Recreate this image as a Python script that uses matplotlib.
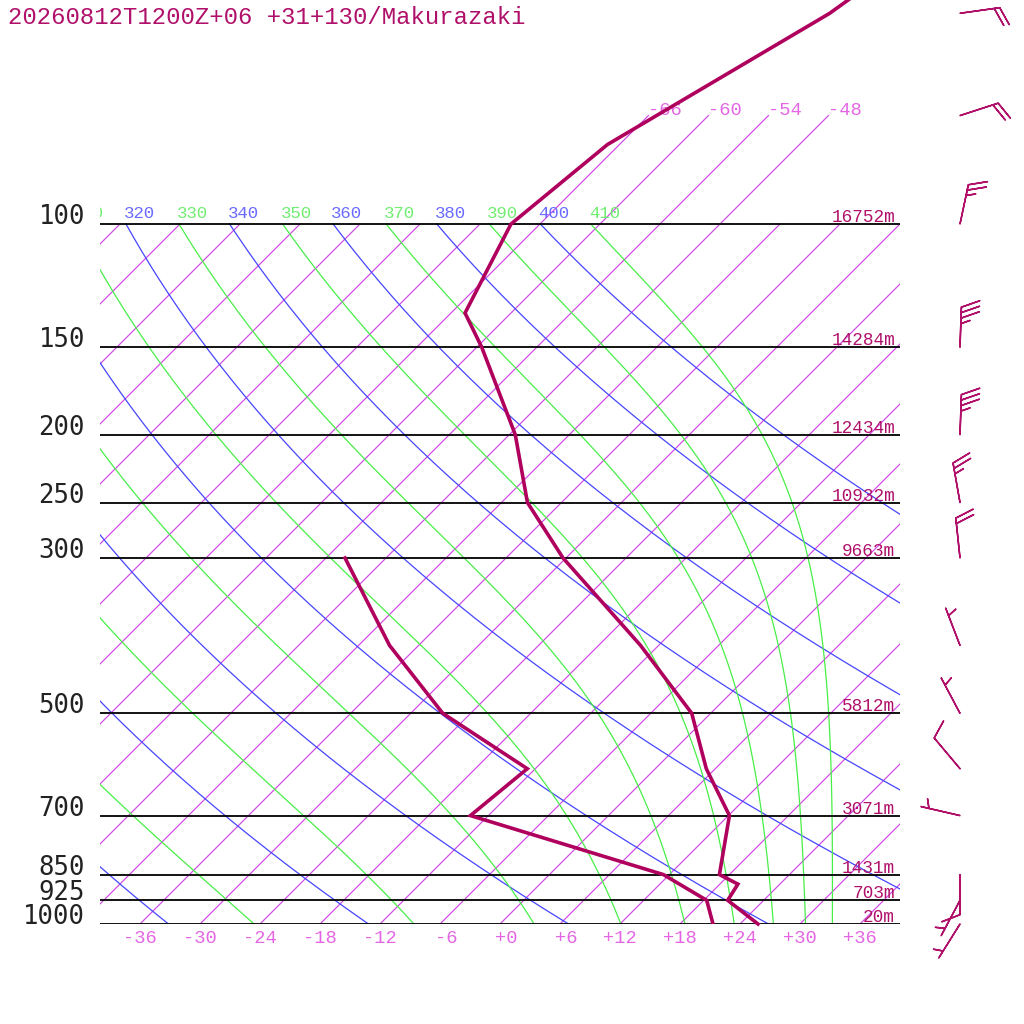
import numpy as np
import matplotlib
matplotlib.use("Agg")
import matplotlib.pyplot as plt

title = "20260812T1200Z+06 +31+130/Makurazaki"

# standard levels with geopotential height labels
levels = [100, 150, 200, 250, 300, 500, 700, 850, 925, 1000]
heights = ["16752m", "14284m", "12434m", "10932m", "9663m",
           "5812m", "3071m", "1431m", "703m", "20m"]

# temperature profile (hPa, degC)
t_pres = [30, 50, 77, 100, 134, 150, 200, 250, 300, 400, 500, 600, 700, 850, 877, 925, 1000]
t_temp = [-52.1, -58.1, -67.2, -68.9, -64.6, -59.5, -47.4, -39.4, -30.3, -13.8,
          -1.9, 5.1, 12.1, 17.0, 19.8, 20.4, 25.8]

# dewpoint profile
d_pres = [300, 400, 500, 600, 700, 850, 925, 1000]
d_temp = [-52.1, -38.9, -26.8, -12.8, -13.8, 11.4, 18.3, 21.3]

# winds (direction from, knots)
w_pres = [50, 70, 100, 150, 200, 250, 300, 400, 500, 600, 700, 850, 925, 1000]
w_dir = [82, 72, 12, 2, 2, 350, 354, 339, 332, 320, 283, 180, 208, 212]
w_spd = [20, 20, 25, 35, 35, 25, 20, 5, 5, 10, 5, 10, 5, 5]

isotherms = list(range(-120, 43, 6))
iso_top = [-66, -60, -54, -48]
iso_bottom_labels = list(range(-36, 37, 6))
dry_thetas = list(range(240, 401, 20))
moist_thetas = list(range(250, 411, 20))

P_TOP = 1000 * 10 ** (-924 / 700)
SKEW = 70.0

PROFILE = "#b0005e"
ISO = "#d046e4"
ISO_LAB = "#e466e4"
DRY = "#4646ff"
DRY_LAB = "#6a6aff"
MOIST = "#48ee48"
MOIST_LAB = "#70ee70"
TXT = "#b0106a"
MONO = "Liberation Mono"


def skew_x(t, p):
    return np.asarray(t) + SKEW * np.log10(1000.0 / np.asarray(p))


def theta_e_sat(tk, p):
    tc = tk - 273.15
    es = 6.112 * np.exp(17.67 * tc / (tc + 243.5))
    r = 622.0 * es / (p - es)
    th = tk * (1000.0 / p) ** (0.2854 * (1 - 0.28e-3 * r))
    return th * np.exp((3.376 / tk - 0.00254) * r * (1 + 0.81e-3 * r))


def moist_adiabat(the, p):
    lo = np.full_like(p, 150.0)
    hi = the * (p / 1000.0) ** 0.2854 + 0.5
    for _ in range(60):
        mid = 0.5 * (lo + hi)
        f = theta_e_sat(mid, p) > the
        hi = np.where(f, mid, hi)
        lo = np.where(f, lo, mid)
    return 0.5 * (lo + hi) - 273.15


def top_label(th, t100, color):
    x0 = skew_x(t100, 100)
    if x0 < -44:  # label lies wholly left of the frame
        return
    ax.annotate(str(th), xy=(x0, 100), xytext=(-2, 6),
                textcoords="offset pixels", ha="left", va="baseline",
                color=color, fontsize=12.5, family=MONO,
                clip_on=True, annotation_clip=False)


fig = plt.figure(figsize=(10.24, 10.24), dpi=100)
ax = fig.add_axes([100 / 1024, 100 / 1024, 800 / 1024, 924 / 1024])
ax.set_yscale("log")
ax.set_xlim(-40, 40)
ax.set_ylim(1000, P_TOP)
ax.axis("off")

pp = np.logspace(2, 3, 200)

# isotherms
for t in isotherms:
    ptop = 70 if t in iso_top else 100
    pl = np.array([ptop, 1000.0])
    ax.plot(skew_x(t, pl), pl, color=ISO, lw=0.85, zorder=1)
for t in iso_top:
    ax.annotate(f"{t:+d}", xy=(skew_x(t, 70), 70), xytext=(0, 1),
                textcoords="offset pixels", ha="left", va="baseline",
                color=ISO_LAB, fontsize=13.5, family=MONO)
for t in iso_bottom_labels:
    ax.annotate(f"{t:+d}", xy=(t, 1000), xytext=(17, -19),
                textcoords="offset pixels", ha="right", va="baseline",
                color=ISO_LAB, fontsize=13.5, family=MONO, annotation_clip=False)

# dry adiabats
for th in dry_thetas:
    tt = th * (pp / 1000.0) ** 0.2857 - 273.15
    ax.plot(skew_x(tt, pp), pp, color=DRY, lw=0.9, zorder=2)
    top_label(th, tt[0], DRY_LAB)

# moist adiabats
for th in moist_thetas:
    tt = moist_adiabat(float(th), pp)
    ax.plot(skew_x(tt, pp), pp, color=MOIST, lw=0.9, zorder=2)
    top_label(th, tt[0], MOIST_LAB)

# pressure levels
ax.hlines(levels, -40, 40, color="black", lw=1.3, zorder=3)
for p, h in zip(levels, heights):
    ax.annotate(str(p), xy=(0, p), xycoords=ax.get_yaxis_transform(),
                xytext=(-15, 0), textcoords="offset pixels", ha="right",
                va="baseline", color="#222222", fontsize=18.5,
                family="DejaVu Sans Mono", annotation_clip=False)
    ax.annotate(h, xy=(39.5, p), xytext=(0, 2), textcoords="offset pixels",
                ha="right", va="baseline", color=TXT, fontsize=12.8, family=MONO)

# profiles
ax.plot(skew_x(t_temp, t_pres), t_pres, color=PROFILE, lw=2.6, zorder=5,
        solid_joinstyle="miter", clip_on=False)
ax.plot(skew_x(d_temp, d_pres), d_pres, color=PROFILE, lw=2.6, zorder=5,
        solid_joinstyle="miter")

# wind barbs
bax = fig.add_axes([920 / 1024, 100 / 1024, 80 / 1024, 924 / 1024], sharey=ax)
bax.set_xlim(0, 1)
bax.axis("off")
wd = np.radians(w_dir)
u = -np.array(w_spd) * np.sin(wd)
v = -np.array(w_spd) * np.cos(wd)
bax.barbs(np.full(len(w_pres), 0.5), w_pres, u, v, length=7.6,
          sizes=dict(spacing=0.137, height=0.45, width=0.35),
          color=TXT, lw=1.1, clip_on=False)

fig.text(8 / 1024, 1 - 24 / 1024, title, ha="left", va="baseline",
         color=TXT, fontsize=17.2, family=MONO)

fig.savefig("out.png", dpi=100)
